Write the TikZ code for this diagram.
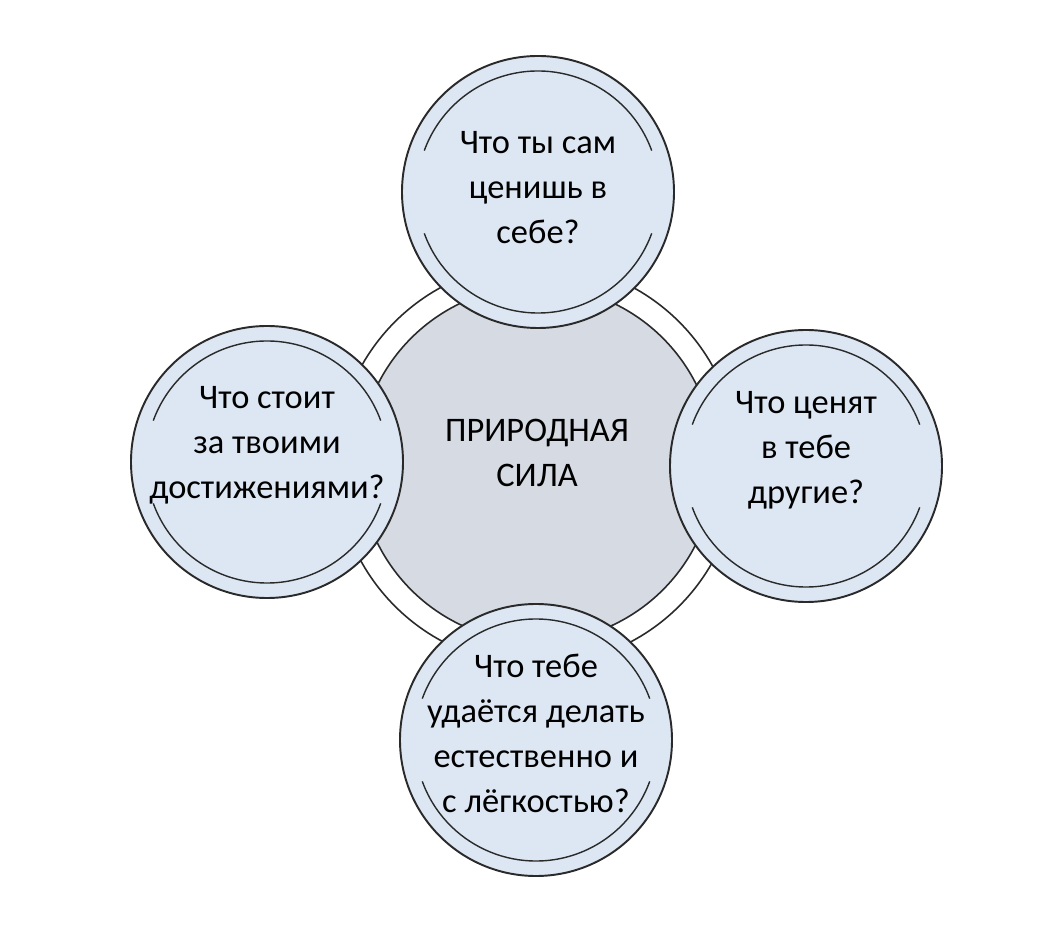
\documentclass[tikz,border=0pt]{standalone}
\usepackage{fontspec}
\setmainfont{Carlito}
\usetikzlibrary{positioning}
\definecolor{bubblefill}{HTML}{DDE7F3}
\definecolor{corefill}{HTML}{D5DAE3}
\definecolor{edge}{HTML}{2A2A2A}
\tikzset{bubble/.style = {circle, draw=edge, line width=1.1pt, fill=bubblefill,
                          minimum size=5.44cm, inner sep=0pt},
         question/.style = {align=center, text=black,
                            font=\fontsize{19.6}{25.6}\selectfont},
         innerarc/.style = {draw=edge, line width=0.8pt}}

\begin{document}
\begin{tikzpicture}
    \useasboundingbox (-10.74, -9.72) rectangle (10.16, 9.28);
    \draw [edge, line width=0.9pt, fill=white] (0, 0) circle (4.02);
    \node [circle, draw=edge, line width=0.9pt, fill=corefill,
           minimum size=7.12cm, inner sep=0pt] (core) at (0, 0) {};
    \node [question] (coretext) at ([yshift=0.22cm]core.center) {ПРИРОДНАЯ\\СИЛА};
    \node [bubble] (self) at (0.02, 5.44) {};
    \node [bubble] (achieve) at (-5.40, 0.04) {};
    \node [bubble] (others) at (5.38, -0.04) {};
    \node [bubble] (ease) at (-0.02, -5.52) {};
    \foreach \b in {self, achieve, others, ease} {
        \draw [innerarc] (\b) ++(20:2.42) arc [start angle=20, end angle=160, radius=2.42];
        \draw [innerarc] (\b) ++(200:2.42) arc [start angle=200, end angle=340, radius=2.42];
    }
    \node [question] (selftext) at ([yshift=0.09cm]self.center) {Что ты сам\\ценишь в\\себе?};
    \node [question] (achievetext) at ([yshift=0.34cm]achieve.center) {Что стоит\\за твоими\\достижениями?};
    \node [question] (otherstext) at ([yshift=0.32cm]others.center) {Что ценят\\в тебе\\другие?};
    \node [question] (easetext) at ([yshift=0.14cm]ease.center) {Что тебе\\удаётся делать\\естественно и\\с лёгкостью?};
\end{tikzpicture}
\end{document}
